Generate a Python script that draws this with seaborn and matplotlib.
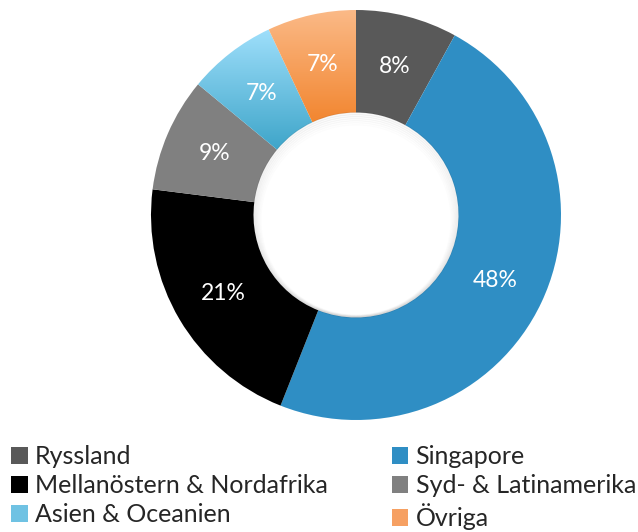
import numpy as np
import matplotlib
matplotlib.use('Agg')
import matplotlib.pyplot as plt
import seaborn as sns
from matplotlib.patches import Patch
from matplotlib.colors import LinearSegmentedColormap

# data
regions = ['Ryssland', 'Singapore', 'Mellanöstern & Nordafrika',
           'Syd- & Latinamerika', 'Asien & Oceanien', 'Övriga']
shares = [8, 48, 21, 9, 7, 7]
colors = ['#595959', '#2F8EC4', '#000000', '#808080', '#7CCBEA', '#F8A060']
# top/bottom colours for the two gradient slices
gradients = {
    'Asien & Oceanien': ('#9FDFFB', '#3EA5C9'),
    'Övriga': ('#FBBA88', '#F28630'),
}

sns.set_theme(style='white')
plt.rcParams['font.family'] = ['Lato', 'DejaVu Sans']

fig = plt.figure(figsize=(6.38, 5.32), dpi=100)
cx, cy, r = 356, 215, 205
ax = fig.add_axes([(cx - r) / 638, (532 - cy - r) / 532, 2 * r / 638, 2 * r / 532])

wedges, texts, autotexts = ax.pie(
    shares, colors=colors, startangle=90, counterclock=False,
    wedgeprops=dict(width=0.5, linewidth=0),
    autopct='%1.0f%%', pctdistance=0.75,
    textprops=dict(color='white', fontsize=16.5))

# vertical gradient fill for some slices
for w, name in zip(wedges, regions):
    if name in gradients:
        top, bot = gradients[name]
        cmap = LinearSegmentedColormap.from_list(name, [bot, top])
        ext = w.get_path().get_extents()
        grad = np.linspace(0, 1, 256).reshape(-1, 1)
        im = ax.imshow(grad, cmap=cmap, origin='lower', aspect='auto',
                       extent=[ext.x0, ext.x1, ext.y0, ext.y1], zorder=w.get_zorder())
        im.set_clip_path(w)
        w.set_facecolor('none')

# soft shadow just inside the hole, stronger at the top
for i, a in enumerate(np.linspace(0.07, 0.0, 8)):
    ax.add_patch(plt.Circle((0, -0.004 * i), 0.5 - i * 0.006, fill=False,
                            edgecolor='black', alpha=a, linewidth=1.0, zorder=5))
for t in autotexts:
    t.set_zorder(10)

ax.set_xlim(-1, 1)
ax.set_ylim(-1, 1)
ax.axis('off')

# legend, filled row-wise like the original
handles = [Patch(facecolor=c, edgecolor='none') for c in colors]
handles[4] = Patch(facecolor='#6FC2E3', edgecolor='none')
handles[5] = Patch(facecolor='#F6A062', edgecolor='none')
order = [0, 2, 4, 1, 3, 5]
fig.legend([handles[i] for i in order], [regions[i] for i in order],
           ncol=2, loc='upper left', bbox_to_anchor=(0.018, 0.163),
           frameon=False, fontsize=18, handlelength=0.65, handleheight=0.65,
           handletextpad=0.3, labelspacing=0.24, columnspacing=2.55,
           borderaxespad=0, borderpad=0)

fig.savefig('out.png', dpi=100)
